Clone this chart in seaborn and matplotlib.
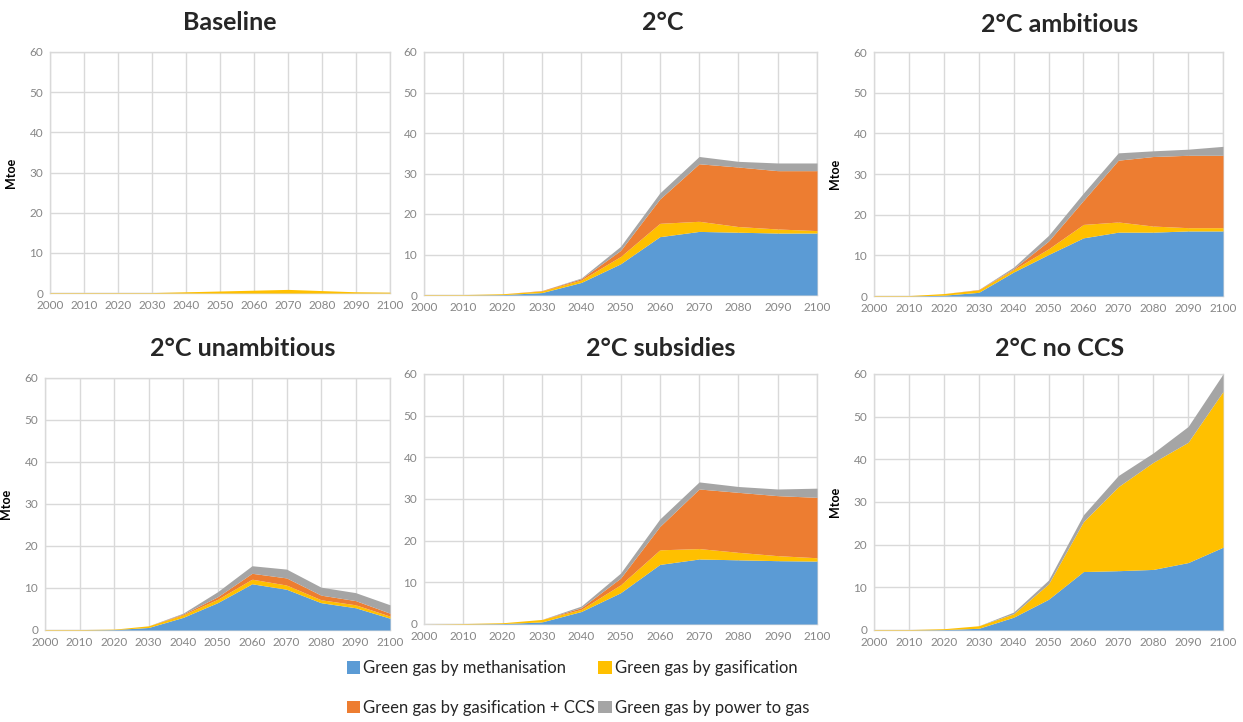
import matplotlib
matplotlib.use("Agg")
import matplotlib.pyplot as plt
from matplotlib.patches import Patch
import numpy as np
import seaborn as sns
import pandas as pd

# Annees
years = [2000, 2010, 2020, 2030, 2040, 2050, 2060, 2070, 2080, 2090, 2100]

series_names = ["Green gas by methanisation", "Green gas by gasification",
                "Green gas by gasification + CCS", "Green gas by power to gas"]
colors = ["#5B9BD5", "#FFC000", "#ED7D31", "#A5A5A5"]

# valeurs (Mtoe) : methanisation, gasification, gasification + CCS, power to gas
baseline_meth = [0, 0, 0, 0, 0, 0, 0, 0, 0, 0, 0]
baseline_gasif = [0.1, 0.1, 0.1, 0.1, 0.3, 0.5, 0.7, 0.9, 0.6, 0.3, 0.2]
baseline_ccs = [0, 0, 0, 0, 0, 0, 0, 0, 0, 0, 0]
baseline_p2g = [0, 0, 0, 0, 0, 0, 0, 0, 0, 0, 0]

c2_meth = [0.0, 0.0, 0.1, 0.6, 3.1, 7.7, 14.4, 15.7, 15.5, 15.3, 15.3]
c2_gasif = [0.1, 0.1, 0.2, 0.4, 0.6, 1.8, 3.3, 2.5, 1.4, 1.0, 0.6]
c2_ccs = [0, 0, 0, 0.1, 0.3, 1.5, 6.0, 14.2, 14.7, 14.4, 14.8]
c2_p2g = [0, 0, 0, 0, 0.2, 1.0, 1.5, 1.8, 1.4, 1.9, 1.9]

amb_meth = [0.0, 0.0, 0.2, 0.9, 5.9, 10.2, 14.3, 15.7, 15.7, 16.0, 16.0]
amb_gasif = [0.1, 0.1, 0.4, 0.6, 0.6, 1.4, 3.3, 2.5, 1.5, 0.8, 0.8]
amb_ccs = [0, 0, 0, 0.1, 0.2, 1.9, 5.9, 15.2, 17.1, 17.8, 17.8]
amb_p2g = [0, 0, 0, 0, 0.4, 1.4, 1.8, 1.8, 1.4, 1.5, 2.2]

unamb_meth = [0.0, 0.0, 0.1, 0.6, 3.0, 6.5, 11.0, 9.7, 6.5, 5.3, 2.8]
unamb_gasif = [0.1, 0.1, 0.1, 0.4, 0.6, 0.8, 1.1, 1.0, 0.7, 0.7, 0.5]
unamb_ccs = [0, 0, 0, 0, 0.2, 0.6, 1.4, 1.7, 1.1, 1.0, 0.7]
unamb_p2g = [0, 0, 0, 0, 0.2, 1.2, 1.8, 2.1, 1.9, 1.9, 2.0]

sub_meth = [0.0, 0.0, 0.1, 0.5, 3.0, 7.5, 14.3, 15.6, 15.4, 15.2, 15.1]
sub_gasif = [0.0, 0.1, 0.2, 0.6, 0.5, 1.9, 3.5, 2.5, 1.8, 1.2, 0.8]
sub_ccs = [0, 0, 0, 0, 0.4, 1.6, 5.6, 14.3, 14.4, 14.4, 14.5]
sub_p2g = [0, 0, 0, 0, 0.4, 1.2, 1.8, 1.7, 1.4, 1.6, 2.2]

noccs_meth = [0.0, 0.0, 0.1, 0.4, 3.0, 7.2, 13.7, 13.9, 14.2, 15.8, 19.4]
noccs_gasif = [0.1, 0.1, 0.2, 0.6, 0.8, 3.6, 11.7, 19.7, 25.1, 28.2, 36.5]
noccs_ccs = [0, 0, 0, 0, 0, 0, 0, 0, 0, 0, 0]
noccs_p2g = [0, 0, 0, 0, 0.4, 0.9, 1.6, 2.6, 2.2, 3.7, 4.1]

panels = [
    ("Baseline", [baseline_meth, baseline_gasif, baseline_ccs, baseline_p2g]),
    ("2°C", [c2_meth, c2_gasif, c2_ccs, c2_p2g]),
    ("2°C ambitious", [amb_meth, amb_gasif, amb_ccs, amb_p2g]),
    ("2°C unambitious", [unamb_meth, unamb_gasif, unamb_ccs, unamb_p2g]),
    ("2°C subsidies", [sub_meth, sub_gasif, sub_ccs, sub_p2g]),
    ("2°C no CCS", [noccs_meth, noccs_gasif, noccs_ccs, noccs_p2g]),
]

# position des axes en pixels : gauche, droite, haut, bas
boxes = [(50, 390, 52, 293), (424, 817, 52, 295), (874, 1223, 52, 296),
         (45, 390, 378, 630), (424, 817, 374, 624), (874, 1223, 374, 630)]
title_pos = [(230, 22), (663, 23), (1060, 25), (243, 349), (661, 348), (1060, 349)]
show_ylabel = [True, False, True, True, False, True]

sns.set_style("white")
plt.rcParams['font.family'] = ['Lato', 'DejaVu Sans']

W, H = 1243, 722
fig = plt.figure(figsize=(W / 100, H / 100), dpi=100)

for (title, vals), (l, r, t, b), (tx, ty), ylab in zip(panels, boxes, title_pos, show_ylabel):
    ax = fig.add_axes([l / W, 1 - b / H, (r - l) / W, (b - t) / H])
    df = pd.DataFrame(dict(zip(series_names, vals)), index=years)
    ax.stackplot(df.index, *[df[c] for c in series_names], colors=colors, linewidth=0, zorder=3)
    ax.set_xlim(2000, 2100)
    ax.set_ylim(0, 60)
    ax.set_xticks(years)
    ax.set_yticks(range(0, 61, 10))
    ax.grid(True, color="#D9D9D9", linewidth=1, zorder=0)
    ax.set_axisbelow(True)
    for sp in ax.spines.values():
        sp.set_color("#D9D9D9")
        sp.set_linewidth(1)
    ax.tick_params(axis="both", length=0, labelsize=8.5, labelcolor="#868686", pad=5)
    if ylab:
        ax.set_ylabel("Mtoe", fontsize=9, fontweight="bold", color="black", labelpad=9)
    fig.text(tx / W, 1 - ty / H, title, ha="center", va="center", fontsize=18, fontweight="bold")

# legende sur deux lignes : methanisation / gasification puis CCS / power to gas
order = [0, 2, 1, 3]
handles = [Patch(facecolor=colors[i], edgecolor="none") for i in order]
labels = [series_names[i] for i in order]
fig.legend(handles, labels, loc="center", bbox_to_anchor=(578 / W, 1 - 688 / H),
           ncol=2, frameon=False, fontsize=12, handlelength=0.8, handleheight=0.8,
           handletextpad=0.2, columnspacing=0.2, labelspacing=1.4)

plt.savefig("out.png", dpi=100)
plt.close()
